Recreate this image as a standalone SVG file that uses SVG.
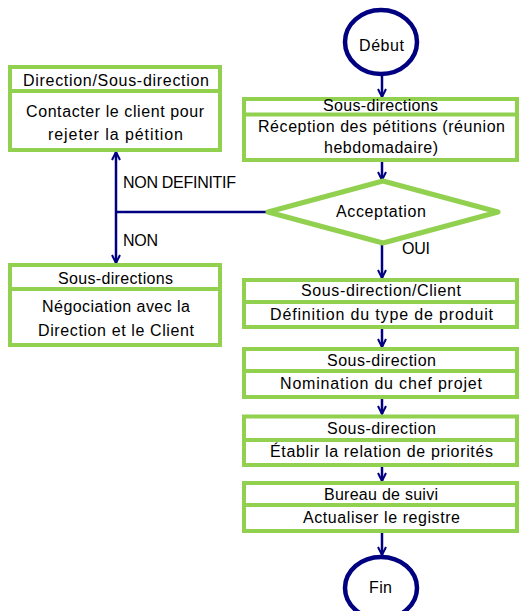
<svg xmlns="http://www.w3.org/2000/svg" width="519" height="611" viewBox="0 0 519 611">
<defs>
<style>
.box{fill:#fff;stroke:#92D050;stroke-width:4}
.div{stroke:#92D050;stroke-width:4}
.term{fill:#fff;stroke:#000080;stroke-width:4.5}
.dec{fill:#fff;stroke:#92D050;stroke-width:5;stroke-linejoin:round}
.con{fill:none;stroke:#000080;stroke-width:2.5}
text{font-family:"Liberation Sans",Arial,sans-serif;font-size:16px;fill:#000;text-anchor:middle}
.lbl{text-anchor:start}
</style>
<marker id="ah" viewBox="0 0 10 10" refX="9" refY="5" markerWidth="10" markerHeight="10" markerUnits="userSpaceOnUse" orient="auto">
<path d="M1,1 L9,5 L1,9" fill="none" stroke="#000080" stroke-width="2"/>
</marker>
</defs>
<rect width="519" height="611" fill="#fff"/>
<g id="connectors">
<line class="con" x1="382" y1="76" x2="382" y2="97" marker-end="url(#ah)"/>
<line class="con" x1="382" y1="162" x2="382" y2="180" marker-end="url(#ah)"/>
<line class="con" x1="382" y1="243" x2="382" y2="278" marker-end="url(#ah)"/>
<line class="con" x1="382" y1="329" x2="382" y2="347" marker-end="url(#ah)"/>
<line class="con" x1="382" y1="399" x2="382" y2="414" marker-end="url(#ah)"/>
<line class="con" x1="382" y1="467" x2="382" y2="481" marker-end="url(#ah)"/>
<line class="con" x1="382" y1="533" x2="382" y2="555" marker-end="url(#ah)"/>
<line class="con" x1="268" y1="212" x2="116" y2="212"/>
<line class="con" x1="116" y1="212" x2="116" y2="152" marker-end="url(#ah)"/>
<line class="con" x1="116" y1="212" x2="116" y2="263" marker-end="url(#ah)"/>
<text class="lbl" x="123" y="188" textLength="113">NON DEFINITIF</text>
<text class="lbl" x="123" y="246" textLength="35">NON</text>
<text class="lbl" x="402" y="254" textLength="28">OUI</text>
</g>
<g id="debut">
<ellipse class="term" cx="381" cy="42" rx="36" ry="32"/>
<text x="381.5" y="51" textLength="45">Début</text>
</g>
<g id="reception">
<rect class="box" x="244" y="99" width="273" height="61"/>
<line class="div" x1="244" y1="114.5" x2="517" y2="114.5"/>
<text x="380.5" y="111" textLength="115">Sous-directions</text>
<text x="381.5" y="132" textLength="247">Réception des pétitions (réunion</text>
<text x="381" y="153" textLength="114">hebdomadaire)</text>
</g>
<g id="acceptation">
<polygon class="dec" points="383,181 498,212 383,243 268,212"/>
<text x="381" y="217" textLength="90">Acceptation</text>
</g>
<g id="contacter">
<rect class="box" x="10" y="67" width="210" height="83"/>
<line class="div" x1="10" y1="91" x2="220" y2="91"/>
<text x="116" y="86" textLength="186">Direction/Sous-direction</text>
<text x="115" y="117" textLength="178">Contacter le client pour</text>
<text x="115.5" y="140" textLength="135">rejeter la pétition</text>
</g>
<g id="negociation">
<rect class="box" x="10" y="265" width="210" height="80"/>
<line class="div" x1="10" y1="289" x2="220" y2="289"/>
<text x="115.5" y="284" textLength="115">Sous-directions</text>
<text x="116" y="312" textLength="148">Négociation avec la</text>
<text x="116" y="336" textLength="156">Direction et le Client</text>
</g>
<g id="definition">
<rect class="box" x="244" y="280" width="273" height="47"/>
<line class="div" x1="244" y1="302" x2="517" y2="302"/>
<text x="381" y="296" textLength="160">Sous-direction/Client</text>
<text x="381.5" y="320" textLength="223">Définition du type de produit</text>
</g>
<g id="nomination">
<rect class="box" x="244" y="349" width="273" height="48"/>
<line class="div" x1="244" y1="371" x2="517" y2="371"/>
<text x="381.5" y="366" textLength="109">Sous-direction</text>
<text x="381" y="389" textLength="202">Nomination du chef projet</text>
</g>
<g id="etablir">
<rect class="box" x="244" y="416.5" width="273" height="48.5"/>
<line class="div" x1="244" y1="440" x2="517" y2="440"/>
<text x="381.5" y="434" textLength="109">Sous-direction</text>
<text x="381.5" y="457" textLength="223">Établir la relation de priorités</text>
</g>
<g id="bureau">
<rect class="box" x="244" y="483" width="273" height="48"/>
<line class="div" x1="244" y1="505" x2="517" y2="505"/>
<text x="381" y="500" textLength="114">Bureau de suivi</text>
<text x="381.5" y="523" textLength="157">Actualiser le registre</text>
</g>
<g id="fin">
<ellipse class="term" cx="381" cy="588" rx="36" ry="31"/>
<text x="380.5" y="593" textLength="23">Fin</text>
</g>
</svg>
